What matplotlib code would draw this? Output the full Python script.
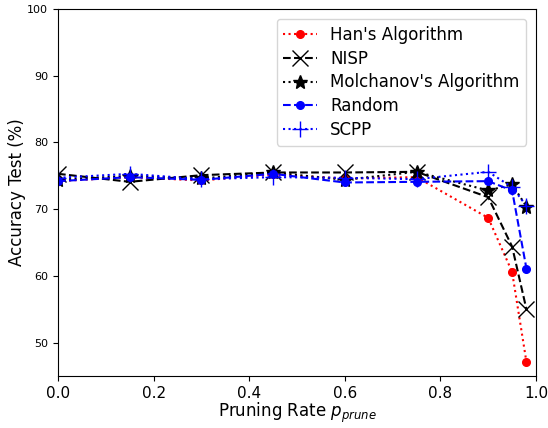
import numpy as np
import matplotlib
matplotlib.use('Agg')
import matplotlib.pyplot as plt

# pruning rates and test accuracy (%) per method
rates = [0.0, 0.15, 0.3, 0.45, 0.6, 0.75, 0.9, 0.95, 0.98]
han = [74.2, 74.8, 74.3, 75.2, 74.6, 74.8, 68.7, 60.6, 47.1]
nisp = [75.3, 74.1, 75.1, 75.5, 75.5, 75.6, 71.8, 64.4, 55.0]
molchanov = [74.4, 75.0, 74.6, 75.5, 74.4, 75.6, 72.8, 73.7, 70.4]
random_ = [74.2, 74.8, 74.4, 75.3, 74.0, 74.1, 74.2, 72.8, 61.1]
scpp = [74.7, 75.3, 74.5, 74.8, 74.7, 74.5, 75.6, 73.3, 70.5]

fig = plt.figure(figsize=(5.48, 4.28), dpi=100)
ax = fig.add_axes([58 / 548, 1 - 376 / 428, 478 / 548, 367 / 428])

ax.plot(rates, han, 'r:', marker='o', markersize=5.5, label="Han's Algorithm")
ax.plot(rates, nisp, 'k--', marker='x', markersize=11, label='NISP')
ax.plot(rates, molchanov, 'k:', marker='*', markersize=10, label="Molchanov's Algorithm")
ax.plot(rates, random_, 'b--', marker='o', markersize=5.5, label='Random')
ax.plot(rates, scpp, 'b:', marker='+', markersize=11, label='SCPP')

ax.set_xlim(0, 1.0)
ax.set_ylim(45, 100)
ax.set_yticks([50, 60, 70, 80, 90, 100])
ax.tick_params(axis='x', labelsize=11)
ax.tick_params(axis='y', labelsize=8)
ax.set_xlabel('Pruning Rate $p_{prune}$', fontsize=12, labelpad=0)
ax.set_ylabel('Accuracy Test (%)', fontsize=12, labelpad=1)
ax.legend(loc='upper right', fontsize=12, labelspacing=0.35,
          borderaxespad=0.6)

fig.savefig('out.png', dpi=100)
